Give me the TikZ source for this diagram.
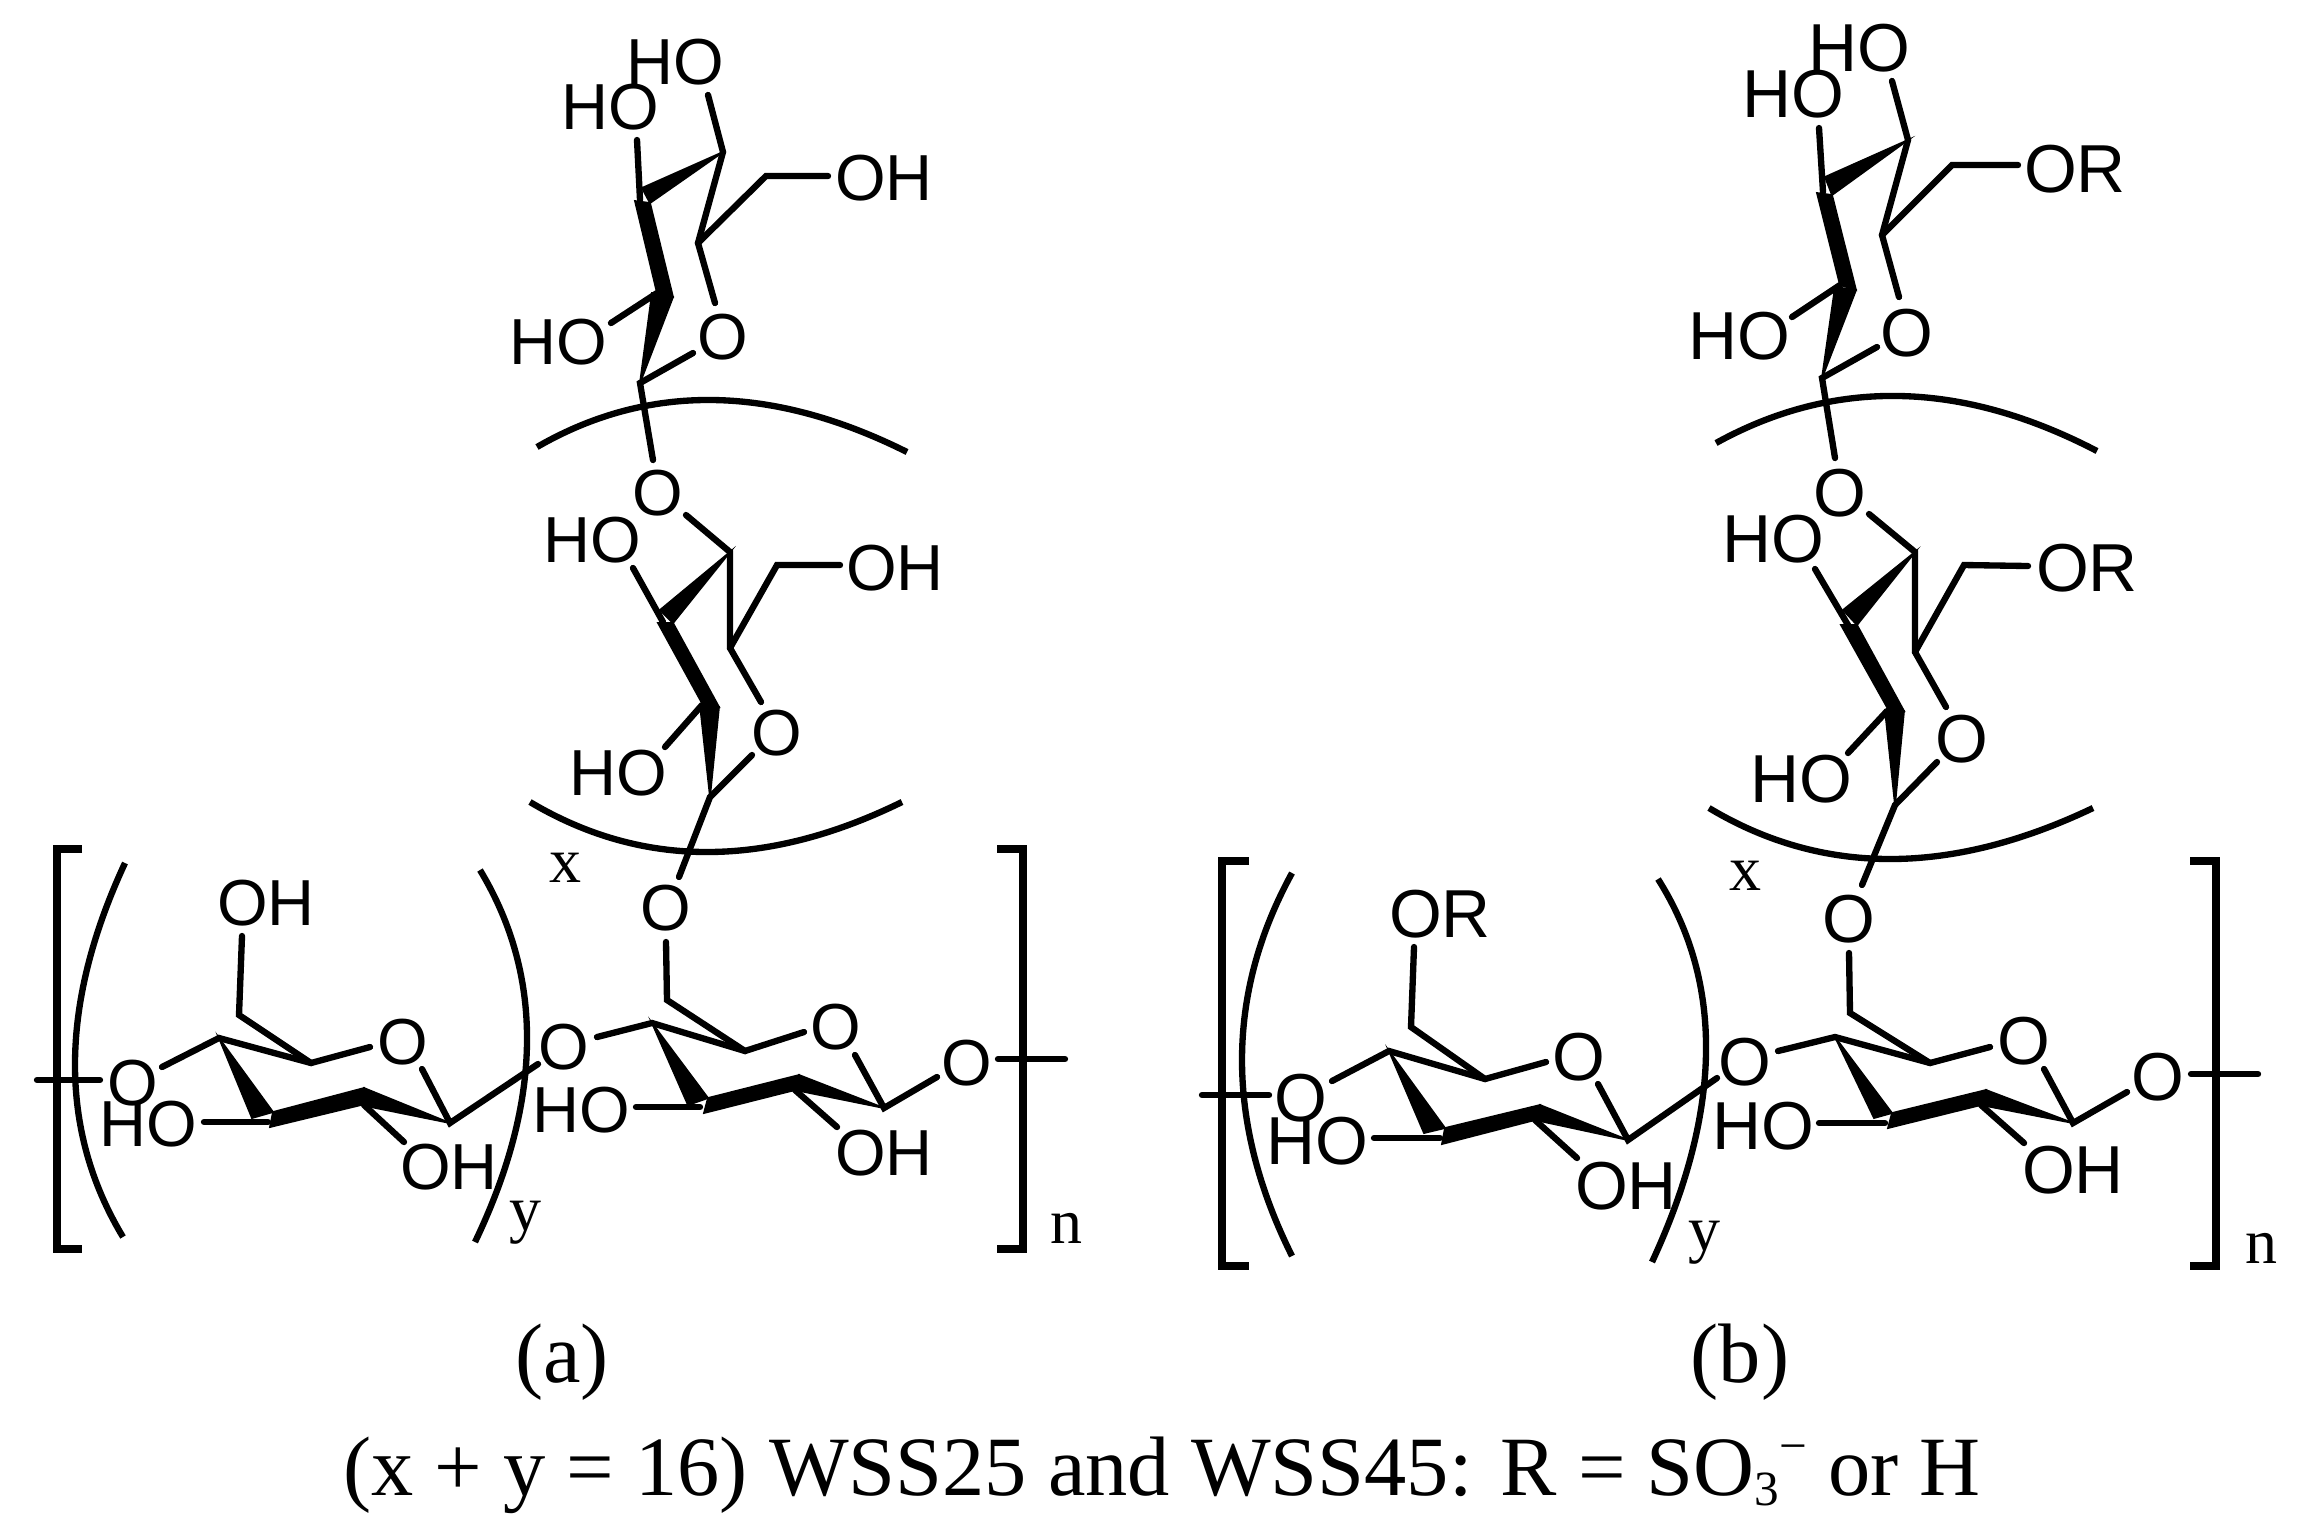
\documentclass[tikz,border=0pt]{standalone}
\usepackage{fontspec}
\setmainfont{Liberation Serif}
\newfontfamily\chemfont{Liberation Sans}
\usetikzlibrary{calc}
\newcommand{\arcthru}[3]{\coordinate (qq) at ($2*(#2)-0.5*(#1)-0.5*(#3)$);
  \draw[arcline] (#1) .. controls ($(#1)!2/3!(qq)$) and ($(#3)!2/3!(qq)$) .. (#3);}
\tikzset{
  atoma/.style={inner sep=0pt,font=\chemfont\fontsize{18.5}{20}\selectfont},
  atomb/.style={inner sep=0pt,font=\chemfont\fontsize{19.3}{21}\selectfont},
  idx/.style={inner sep=0pt,anchor=base,font=\fontsize{18.2}{20}\selectfont},
  captext/.style={inner sep=0pt,anchor=base,font=\fontsize{24}{27}\selectfont},
  bond/.style={line width=1.8pt,line cap=round,line join=miter,miter limit=4},
  arcline/.style={line width=1.8pt},
  brack/.style={line width=2.3pt,line join=miter},
  wedge/.style={fill=black,draw=black,line width=0.5pt,line join=miter},
}
\begin{document}
\begin{tikzpicture}[x=0.01cm,y=-0.01cm]
\useasboundingbox (0,0) rectangle (2300,1523);
% ---------- panel (a), top ring
\node[atoma] (atHO1) at (675,62) {HO};
\node[atoma] (atHO2) at (610,107) {HO};
\node[atoma] (atOH) at (884,178) {OH};
\node[atoma] (atO) at (723,337) {O};
\node[atoma] (atHO3) at (558,342) {HO};
\coordinate (atC1) at (723,152);
\coordinate (atC2) at (640,200);
\coordinate (atR) at (698,243);
\coordinate (atA) at (640,383);
\coordinate (atB) at (657,293);
\coordinate (atE1) at (708,95);
\coordinate (atE2) at (637,140);
\coordinate (atCH) at (766,176);
\coordinate (atE3) at (828,176);
\coordinate (atE4) at (715,303);
\coordinate (atE5) at (693,353);
\coordinate (atE6) at (611,323);
\coordinate (atE7) at (653,460);
\draw[bond] (atE1) -- (atC1) -- (atR) -- (atE4);
\draw[bond] (atE2) -- (atC2);
\draw[bond] (atR) -- (atCH) -- (atE3);
\draw[bond] (atE5) -- (atA) -- (atE7);
\draw[bond] (atE6) -- (atB);
\fill[wedge] (atC1) -- (642,188) -- (650,203) -- cycle;
\fill[wedge] (635,201) -- (650,203) -- (673,297) -- (657,293) -- cycle;
\fill[wedge] (652,293) -- (673,297) -- (atA) -- cycle;
\coordinate (atL) at (537,447); \coordinate (atM) at (713,400); \coordinate (atN) at (907,452);
\arcthru{atL}{atM}{atN}
% ---------- panel (a), middle ring
\node[atoma] (amO1) at (658,493) {O};
\node[atoma] (amHO1) at (592,540) {HO};
\node[atoma] (amOH) at (895,568) {OH};
\node[atoma] (amO) at (777,733) {O};
\node[atoma] (amHO2) at (618,773) {HO};
\coordinate (amC1) at (730,552);
\coordinate (amC2) at (663,622);
\coordinate (amR) at (730,648);
\coordinate (amA) at (710,797);
\coordinate (amB) at (702,705);
\coordinate (amE1) at (686,515);
\coordinate (amE2) at (633,568);
\coordinate (amCH) at (777,565);
\coordinate (amE3) at (840,565);
\coordinate (amE4) at (761,702);
\coordinate (amE5) at (752,755);
\coordinate (amE6) at (665,747);
\coordinate (amE7) at (679,877);
\draw[bond] (amE1) -- (amC1) -- (amR) -- (amE4);
\draw[bond] (amE2) -- (amC2);
\draw[bond] (amR) -- (amCH) -- (amE3);
\draw[bond] (amE5) -- (amA) -- (amE7);
\draw[bond] (amE6) -- (amB);
\fill[wedge] (amC1) -- (660,610) -- (673,623) -- cycle;
\fill[wedge] (658,623) -- (673,623) -- (719,707) -- (703,705) -- cycle;
\fill[wedge] (700,705) -- (719,707) -- (amA) -- cycle;
\coordinate (amL) at (530,802); \coordinate (amM) at (707,852); \coordinate (amN) at (902,802);
\arcthru{amL}{amM}{amN}
\node[idx] (xa) at (565,882) {x};
% ---------- panel (a), left unit
\node[atoma] (alOH) at (266,903) {OH};
\node[atoma] (alO1) at (133,1083) {O};
\node[atoma] (alO) at (403,1042) {O};
\node[atoma] (alHO) at (148,1124) {HO};
\node[atoma] (alOH2) at (449,1167) {OH};
\coordinate (alE0) at (37,1080);
\coordinate (alE1) at (100,1080);
\coordinate (alE2) at (162,1067);
\coordinate (alC4) at (219,1038);
\coordinate (alC5) at (311,1063);
\coordinate (alE3) at (370,1047);
\coordinate (alE4) at (422,1069);
\coordinate (alC1) at (450,1123);
\coordinate (alE5) at (538,1064);
\coordinate (alCH) at (239,1015);
\coordinate (alE6) at (242,936);
\coordinate (alE7) at (204,1122);
\coordinate (alC3) at (268,1122);
\coordinate (alE8) at (404,1142);
\coordinate (alC2) at (364,1105);
\draw[bond] (alE0) -- (alE1);
\draw[bond] (alE2) -- (alC4) -- (alC5) -- (alE3);
\draw[bond] (alE4) -- (alC1) -- (alE5);
\draw[bond] (alE6) -- (alCH) -- (alC5);
\draw[bond] (alE7) -- (alC3);
\draw[bond] (alE8) -- (alC2);
\fill[wedge] (alC4) -- (252,1118) -- (273,1112) -- cycle;
\fill[wedge] (270,1127) -- (273,1112) -- (364,1088) -- (361,1105) -- cycle;
\fill[wedge] (364,1088) -- (361,1105) -- (alC1) -- cycle;
\coordinate (apA) at (125,863); \coordinate (apB) at (75,1063); \coordinate (apC) at (123,1237);
\arcthru{apA}{apB}{apC}
\coordinate (apD) at (480,870); \coordinate (apE) at (527,1043); \coordinate (apF) at (475,1242);
\arcthru{apD}{apE}{apF}
\node[idx] (ya) at (525,1230) {y};
% ---------- panel (a), right unit
\node[atoma] (arO1) at (666,908) {O};
\node[atoma] (arO2) at (564,1047) {O};
\node[atoma] (arO) at (836,1027) {O};
\node[atoma] (arO3) at (967,1063) {O};
\node[atoma] (arHO) at (581,1110) {HO};
\node[atoma] (arOH) at (884,1153) {OH};
\coordinate (arE0) at (666,942);
\coordinate (arCH) at (667,1000);
\coordinate (arC5) at (745,1051);
\coordinate (arC4) at (652,1023);
\coordinate (arE1) at (597,1037);
\coordinate (arE2) at (804,1032);
\coordinate (arE3) at (855,1055);
\coordinate (arC1) at (884,1108);
\coordinate (arE4) at (937,1077);
\coordinate (arE5) at (998,1059);
\coordinate (arE6) at (1065,1059);
\coordinate (arE7) at (636,1107);
\coordinate (arC3) at (700,1107);
\coordinate (arE8) at (837,1127);
\coordinate (arC2) at (795,1090);
\draw[bond] (arE0) -- (arCH) -- (arC5);
\draw[bond] (arE1) -- (arC4) -- (arC5) -- (arE2);
\draw[bond] (arE3) -- (arC1) -- (arE4);
\draw[bond] (arE5) -- (arE6);
\draw[bond] (arE7) -- (arC3);
\draw[bond] (arE8) -- (arC2);
\fill[wedge] (arC4) -- (688,1105) -- (708,1098) -- cycle;
\fill[wedge] (704,1113) -- (708,1098) -- (799,1075) -- (795,1090) -- cycle;
\fill[wedge] (799,1075) -- (795,1090) -- (arC1) -- cycle;
\node[idx] (na) at (1066,1243) {n};
% brackets (a)
\coordinate (abA) at (82,849); \coordinate (abB) at (57,849); \coordinate (abC) at (57,1249); \coordinate (abD) at (82,1249);
\draw[brack] (abA) -- (abB) -- (abC) -- (abD);
\coordinate (abE) at (997,849); \coordinate (abF) at (1023,849); \coordinate (abG) at (1023,1249); \coordinate (abH) at (997,1249);
\draw[brack] (abE) -- (abF) -- (abG) -- (abH);
% ---------- panel (b), top ring
\node[atomb] (btHO1) at (1859,48) {HO};
\node[atomb] (btHO2) at (1793,94) {HO};
\node[atomb] (btOR) at (2075,169) {OR};
\node[atomb] (btO) at (1907,333) {O};
\node[atomb] (btHO3) at (1739,336) {HO};
\coordinate (btC1) at (1908,140);
\coordinate (btC2) at (1823,192);
\coordinate (btR) at (1882,235);
\coordinate (btA) at (1822,378);
\coordinate (btB) at (1840,285);
\coordinate (btE1) at (1892,81);
\coordinate (btE2) at (1819,128);
\coordinate (btCH) at (1952,165);
\coordinate (btE3) at (2018,165);
\coordinate (btE4) at (1899,297);
\coordinate (btE5) at (1877,347);
\coordinate (btE6) at (1792,317);
\coordinate (btE7) at (1835,458);
\draw[bond] (btE1) -- (btC1) -- (btR) -- (btE4);
\draw[bond] (btE2) -- (btC2);
\draw[bond] (btR) -- (btCH) -- (btE3);
\draw[bond] (btE5) -- (btA) -- (btE7);
\draw[bond] (btE6) -- (btB);
\fill[wedge] (btC1) -- (1825,177) -- (1832,195) -- cycle;
\fill[wedge] (1817,193) -- (1832,195) -- (1856,290) -- (1840,285) -- cycle;
\fill[wedge] (1835,287) -- (1856,290) -- (btA) -- cycle;
\coordinate (btL) at (1716,443); \coordinate (btM) at (1900,396); \coordinate (btN) at (2097,451);
\arcthru{btL}{btM}{btN}
% ---------- panel (b), middle ring
\node[atomb] (bmO1) at (1840,493) {O};
\node[atomb] (bmHO1) at (1773,539) {HO};
\node[atomb] (bmOR) at (2087,568) {OR};
\node[atomb] (bmO) at (1962,739) {O};
\node[atomb] (bmHO2) at (1801,779) {HO};
\coordinate (bmC1) at (1915,552);
\coordinate (bmC2) at (1848,625);
\coordinate (bmR) at (1915,652);
\coordinate (bmA) at (1895,805);
\coordinate (bmB) at (1887,711);
\coordinate (bmE1) at (1869,514);
\coordinate (bmE2) at (1815,569);
\coordinate (bmCH) at (1964,565);
\coordinate (bmE3) at (2028,566);
\coordinate (bmE4) at (1946,707);
\coordinate (bmE5) at (1937,762);
\coordinate (bmE6) at (1848,753);
\coordinate (bmE7) at (1862,885);
\draw[bond] (bmE1) -- (bmC1) -- (bmR) -- (bmE4);
\draw[bond] (bmE2) -- (bmC2);
\draw[bond] (bmR) -- (bmCH) -- (bmE3);
\draw[bond] (bmE5) -- (bmA) -- (bmE7);
\draw[bond] (bmE6) -- (bmB);
\fill[wedge] (bmC1) -- (1843,610) -- (1857,625) -- cycle;
\fill[wedge] (1841,625) -- (1857,625) -- (1904,711) -- (1888,709) -- cycle;
\fill[wedge] (1885,710) -- (1904,711) -- (bmA) -- cycle;
\coordinate (bmL) at (1709,808); \coordinate (bmM) at (1890,859); \coordinate (bmN) at (2093,808);
\arcthru{bmL}{bmM}{bmN}
\node[idx] (xb) at (1745,890) {x};
% ---------- panel (b), left unit
\node[atomb] (blOR) at (1440,914) {OR};
\node[atomb] (blO1) at (1301,1098) {O};
\node[atomb] (blO) at (1579,1057) {O};
\node[atomb] (blHO) at (1317,1141) {HO};
\node[atomb] (blOH2) at (1626,1186) {OH};
\coordinate (blE0) at (1202,1095);
\coordinate (blE1) at (1269,1095);
\coordinate (blE2) at (1332,1081);
\coordinate (blC4) at (1389,1051);
\coordinate (blC5) at (1485,1079);
\coordinate (blE3) at (1546,1062);
\coordinate (blE4) at (1598,1084);
\coordinate (blC1) at (1628,1140);
\coordinate (blE5) at (1717,1078);
\coordinate (blCH) at (1411,1027);
\coordinate (blE6) at (1414,947);
\coordinate (blE7) at (1374,1138);
\coordinate (blC3) at (1440,1138);
\coordinate (blE8) at (1577,1158);
\coordinate (blC2) at (1535,1120);
\draw[bond] (blE0) -- (blE1);
\draw[bond] (blE2) -- (blC4) -- (blC5) -- (blE3);
\draw[bond] (blE4) -- (blC1) -- (blE5);
\draw[bond] (blE6) -- (blCH) -- (blC5);
\draw[bond] (blE7) -- (blC3);
\draw[bond] (blE8) -- (blC2);
\fill[wedge] (blC4) -- (1424,1133) -- (1445,1128) -- cycle;
\fill[wedge] (1442,1144) -- (1445,1128) -- (1540,1105) -- (1535,1120) -- cycle;
\fill[wedge] (1540,1105) -- (1535,1120) -- (blC1) -- cycle;
\coordinate (bpA) at (1292,873); \coordinate (bpB) at (1242,1060); \coordinate (bpC) at (1292,1256);
\arcthru{bpA}{bpB}{bpC}
\coordinate (bpD) at (1658,879); \coordinate (bpE) at (1706,1053); \coordinate (bpF) at (1652,1262);
\arcthru{bpD}{bpE}{bpF}
\node[idx] (yb) at (1704,1250) {y};
% ---------- panel (b), right unit
\node[atomb] (brO1) at (1849,919) {O};
\node[atomb] (brO2) at (1745,1062) {O};
\node[atomb] (brO) at (2024,1041) {O};
\node[atomb] (brO3) at (2158,1077) {O};
\node[atomb] (brHO) at (1763,1126) {HO};
\node[atomb] (brOH) at (2073,1170) {OH};
\coordinate (brE0) at (1849,953);
\coordinate (brCH) at (1850,1013);
\coordinate (brC5) at (1930,1063);
\coordinate (brC4) at (1835,1037);
\coordinate (brE1) at (1778,1051);
\coordinate (brE2) at (1990,1047);
\coordinate (brE3) at (2044,1069);
\coordinate (brC1) at (2073,1123);
\coordinate (brE4) at (2127,1092);
\coordinate (brE5) at (2191,1074);
\coordinate (brE6) at (2258,1074);
\coordinate (brE7) at (1819,1123);
\coordinate (brC3) at (1885,1123);
\coordinate (brE8) at (2024,1143);
\coordinate (brC2) at (1981,1105);
\draw[bond] (brE0) -- (brCH) -- (brC5);
\draw[bond] (brE1) -- (brC4) -- (brC5) -- (brE2);
\draw[bond] (brE3) -- (brC1) -- (brE4);
\draw[bond] (brE5) -- (brE6);
\draw[bond] (brE7) -- (brC3);
\draw[bond] (brE8) -- (brC2);
\fill[wedge] (brC4) -- (1874,1118) -- (1892,1113) -- cycle;
\fill[wedge] (1888,1128) -- (1892,1113) -- (1986,1090) -- (1981,1105) -- cycle;
\fill[wedge] (1986,1090) -- (1981,1105) -- (brC1) -- cycle;
\node[idx] (nb) at (2261,1263) {n};
% brackets (b)
\coordinate (bbA) at (1249,861); \coordinate (bbB) at (1222,861); \coordinate (bbC) at (1222,1266); \coordinate (bbD) at (1249,1266);
\draw[brack] (bbA) -- (bbB) -- (bbC) -- (bbD);
\coordinate (bbE) at (2190,861); \coordinate (bbF) at (2216,861); \coordinate (bbG) at (2216,1266); \coordinate (bbH) at (2190,1266);
\draw[brack] (bbE) -- (bbF) -- (bbG) -- (bbH);
% ---------- captions
\node[captext] (capa) at (562,1382) {(a)};
\node[captext] (capb) at (1740,1382) {(b)};
\node[captext] (capc) at (1162,1495) {(x + y = 16) WSS25 and WSS45: R = SO\raisebox{-0.12em}{\fontsize{14}{15}\selectfont 3}\raisebox{0.38em}{\fontsize{14}{15}\selectfont −} or H};
\end{tikzpicture}
\end{document}
